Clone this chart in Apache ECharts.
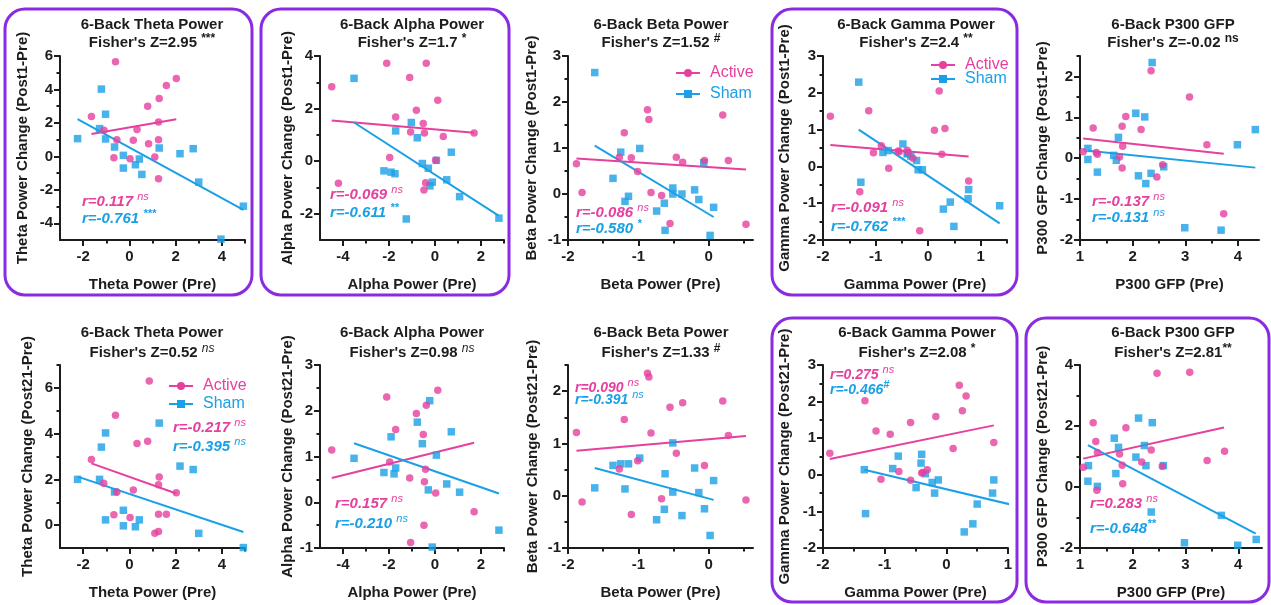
<!DOCTYPE html>
<html><head><meta charset="utf-8">
<script src="https://cdn.jsdelivr.net/npm/echarts@6/dist/echarts.min.js"></script>
<style>html,body{margin:0;padding:0;background:#fff}#c{width:1271px;height:605px}</style>
</head><body><div id="c"></div>
<script>
// ---------------- DATA ----------------
const thetaPost1Active = [[-0.6,5.66],[-1.64,2.38],[-1.1,1.56],[-0.54,1.0],[-0.67,-0.08],[0.03,-0.14],[0.17,0.96],[0.33,1.6],[0.83,0.76],[0.79,3.0],[1.1,-0.04],[1.26,1.0],[1.26,2.06],[1.29,3.46],[1.26,-1.34],[1.6,4.24],[2.03,4.66]];
const thetaPost1Sham = [[-2.24,1.06],[-1.21,4.02],[-1.03,2.52],[-1.29,1.66],[-1.03,1.04],[-0.64,0.56],[-0.26,0.06],[-0.26,-0.7],[0.26,-0.5],[0.43,-0.16],[0.54,-1.08],[1.29,0.5],[2.19,0.16],[2.76,0.46],[3.0,-1.54],[3.96,-4.95],[4.93,-2.98]];
const thetaPost1ActiveFit = [[-1.64,1.34],[2.03,2.22]];
const thetaPost1ShamFit = [[-2.24,2.22],[4.93,-3.2]];

const alphaPost1Active = [[-4.49,2.83],[-4.2,-0.84],[-2.1,3.72],[-1.97,0.14],[-1.71,1.68],[-1.1,3.18],[-1.06,1.11],[-0.81,1.94],[-0.51,1.43],[-0.46,1.07],[-0.48,-1.1],[-0.41,-0.82],[-0.38,3.72],[0.03,0.03],[0.12,2.32],[0.36,0.94],[1.7,1.07]];
const alphaPost1Sham = [[-3.52,3.15],[-2.22,-0.37],[-1.91,-0.42],[-1.74,-0.48],[-1.71,1.15],[-1.25,-2.2],[-1.03,1.47],[-0.77,0.89],[-0.55,-0.09],[-0.29,-0.27],[-0.22,-0.94],[-0.12,-0.8],[0.06,0.03],[0.51,-0.71],[0.71,0.34],[1.07,-1.35],[2.78,-2.17]];
const alphaPost1ActiveFit = [[-4.49,1.55],[1.7,1.08]];
const alphaPost1ShamFit = [[-3.52,1.47],[2.78,-2.08]];

const betaPost1Active = [[-1.88,0.66],[-1.8,0.03],[-1.27,0.8],[-1.2,1.33],[-1.1,0.79],[-1.01,0.49],[-0.87,1.83],[-0.85,1.62],[-0.82,0.03],[-0.67,-0.03],[-0.55,-0.64],[-0.46,0.8],[-0.37,0.69],[-0.06,0.73],[0.2,1.72],[0.28,0.73],[0.53,-0.66]];
const betaPost1Sham = [[-1.62,2.64],[-1.36,0.34],[-1.25,0.91],[-1.19,-0.16],[-1.14,-0.05],[-0.98,0.99],[-0.74,-0.37],[-0.63,-0.2],[-0.62,-0.79],[-0.51,0.13],[-0.51,0.0],[-0.38,0.0],[-0.2,0.09],[-0.14,-0.12],[-0.07,0.68],[0.07,-0.29],[0.02,-0.9]];
const betaPost1ActiveFit = [[-1.88,0.77],[0.53,0.53]];
const betaPost1ShamFit = [[-1.62,1.05],[0.07,-0.5]];

const gammaPost1Active = [[-1.86,1.36],[-1.13,1.51],[0.21,2.05],[0.12,0.98],[0.32,1.03],[-0.89,0.56],[-1.04,0.37],[-0.75,-0.05],[-0.57,0.42],[-0.55,0.4],[-0.4,0.44],[-0.38,0.38],[-0.29,0.22],[0.26,0.33],[-1.3,-0.69],[0.77,-0.4],[-0.16,-1.75]];
const gammaPost1Sham = [[-1.32,2.29],[-1.28,-0.43],[-0.86,0.38],[-0.76,0.43],[-0.48,0.61],[-0.4,0.34],[-0.39,0.36],[-0.33,0.28],[-0.22,0.16],[-0.19,-0.09],[-0.11,-0.09],[0.29,-1.16],[0.42,-0.97],[0.49,-1.63],[0.76,-0.88],[0.77,-0.63],[1.36,-1.07]];
const gammaPost1ActiveFit = [[-1.86,0.58],[0.77,0.27]];
const gammaPost1ShamFit = [[-1.32,1.0],[1.36,-1.55]];

const p300Post1Active = [[1.06,0.16],[1.25,0.74],[1.31,0.14],[1.33,0.1],[1.8,0.78],[1.87,1.02],[1.81,0.29],[1.75,0.03],[1.8,-0.24],[2.16,0.7],[2.35,2.14],[2.46,-0.46],[2.57,-0.16],[3.08,1.5],[3.41,0.33],[3.73,-1.36]];
const p300Post1Sham = [[1.15,0.24],[1.15,-0.03],[1.33,-0.34],[1.64,0.07],[1.69,-0.05],[1.73,0.51],[2.06,1.1],[2.23,1.01],[2.37,2.34],[2.11,-0.43],[2.25,-0.62],[2.35,-0.37],[2.59,-0.21],[2.99,-1.7],[3.68,-1.76],[3.99,0.33],[4.33,0.7]];
const p300Post1ActiveFit = [[1.06,0.48],[3.73,0.11]];
const p300Post1ShamFit = [[1.15,0.18],[4.33,-0.23]];

const thetaPost21Active = [[-1.64,2.87],[-1.11,1.83],[-0.67,0.45],[-0.54,1.45],[-0.6,4.8],[0.03,0.33],[0.17,1.54],[0.33,3.57],[0.79,3.67],[0.86,6.3],[1.1,-0.36],[1.26,-0.28],[1.26,1.77],[1.29,2.1],[1.26,0.48],[1.6,0.48],[2.03,1.42]];
const thetaPost21Sham = [[-2.24,2.0],[-1.21,3.41],[-1.03,4.03],[-1.29,2.0],[-1.03,0.23],[-0.64,1.45],[-0.26,0.65],[-0.26,-0.03],[0.26,-0.07],[0.43,0.23],[1.29,4.46],[2.19,2.58],[2.76,2.43],[3.0,-0.36],[4.93,-0.98]];
const thetaPost21ActiveFit = [[-1.64,2.7],[2.03,1.38]];
const thetaPost21ShamFit = [[-2.24,2.12],[4.93,-0.3]];

const alphaPost21Active = [[-4.49,1.14],[-2.1,2.3],[-1.97,0.88],[-1.71,1.59],[-1.1,0.53],[-1.06,-0.88],[-0.81,1.94],[-0.51,1.48],[-0.46,0.45],[-0.48,-0.5],[-0.41,0.72],[-0.38,2.12],[0.03,0.2],[0.12,2.45],[1.7,-0.21]];
const alphaPost21Sham = [[-3.52,0.96],[-2.22,0.65],[-1.91,1.43],[-1.71,0.75],[-1.78,0.62],[-0.77,1.75],[-0.55,1.28],[-0.29,0.27],[-0.23,2.22],[-0.12,-0.98],[0.06,1.03],[0.51,0.4],[0.71,1.54],[1.07,0.22],[2.78,-0.61]];
const alphaPost21ActiveFit = [[-4.49,0.53],[1.7,1.3]];
const alphaPost21ShamFit = [[-3.52,1.29],[2.78,0.19]];

const betaPost21Active = [[-1.88,1.21],[-1.8,-0.12],[-1.27,0.51],[-1.2,1.46],[-1.1,-0.36],[-1.01,0.67],[-0.87,2.34],[-0.85,2.27],[-0.82,1.2],[-0.67,-0.06],[-0.55,1.69],[-0.46,0.81],[-0.37,1.78],[-0.06,0.58],[0.2,1.81],[0.28,1.15],[0.53,-0.08]];
const betaPost21Sham = [[-1.62,0.15],[-1.36,0.58],[-1.25,0.61],[-1.19,0.13],[-1.14,0.61],[-0.98,0.72],[-0.74,-0.46],[-0.62,0.42],[-0.63,-0.26],[-0.51,1.01],[-0.51,0.07],[-0.38,-0.38],[-0.2,0.53],[-0.14,0.06],[-0.06,-0.25],[0.07,0.29],[0.02,-0.76]];
const betaPost21ActiveFit = [[-1.88,0.86],[0.53,1.14]];
const betaPost21ShamFit = [[-1.62,0.53],[0.07,-0.08]];

const gammaPost21Active = [[-1.89,0.59],[-1.32,2.02],[-1.14,1.2],[-1.06,-0.12],[-0.91,1.11],[-0.77,0.09],[-0.58,-0.15],[-0.58,1.43],[-0.4,0.05],[-0.38,0.06],[-0.31,0.14],[-0.17,1.59],[0.11,0.72],[0.21,2.45],[0.26,1.75],[0.32,2.15],[0.77,0.88]];
const gammaPost21Sham = [[-1.33,0.14],[-1.31,-1.06],[-0.87,0.17],[-0.78,0.51],[-0.49,-0.35],[-0.41,0.32],[-0.4,0.56],[-0.34,0.03],[-0.23,-0.21],[-0.19,-0.5],[-0.13,-0.14],[0.29,-1.56],[0.43,-1.34],[0.5,-0.8],[0.75,-0.5],[0.77,-0.14]];
const gammaPost21ActiveFit = [[-1.89,0.43],[0.77,1.35]];
const gammaPost21ShamFit = [[-1.33,0.14],[1.36,-0.94]];

const p300Post21Active = [[1.06,0.65],[1.25,2.11],[1.3,1.49],[1.33,1.13],[1.32,-0.11],[1.75,1.08],[1.8,0.71],[1.81,0.11],[1.87,1.94],[2.17,0.82],[2.35,1.21],[2.46,3.73],[2.56,0.68],[3.08,3.76],[3.41,0.87],[3.74,1.17]];
const p300Post21Sham = [[1.16,0.7],[1.15,0.19],[1.33,0.02],[1.65,1.6],[1.73,1.3],[1.68,0.44],[2.11,2.26],[2.06,0.98],[2.22,1.36],[2.25,0.7],[2.37,2.11],[2.35,-0.82],[2.58,0.7],[2.98,-1.83],[3.68,-0.93],[3.99,-1.91],[4.34,-1.72]];
const p300Post21ActiveFit = [[1.06,0.93],[3.73,1.95]];
const p300Post21ShamFit = [[1.15,1.37],[4.33,-1.53]];

// ---------------- TEXT ----------------
const titles = ['6-Back Theta Power','6-Back Alpha Power','6-Back Beta Power','6-Back Gamma Power','6-Back P300 GFP',
                '6-Back Theta Power','6-Back Alpha Power','6-Back Beta Power','6-Back Gamma Power','6-Back P300 GFP'];
const fisherZ = ["Fisher's Z=2.95 ","Fisher's Z=1.7 ","Fisher's Z=1.52 ","Fisher's Z=2.4 ","Fisher's Z=-0.02 ",
                 "Fisher's Z=0.52 ","Fisher's Z=0.98 ","Fisher's Z=1.33 ","Fisher's Z=2.08 ","Fisher's Z=2.81"];
const fisherSig = ['***','*','#','**','ns','ns','ns','#','*','**'];
const fisherSigItalic = [false,false,false,false,false,true,true,false,false,false];
const xNames = ['Theta Power (Pre)','Alpha Power (Pre)','Beta Power (Pre)','Gamma Power (Pre)','P300 GFP (Pre)',
                'Theta Power (Pre)','Alpha Power (Pre)','Beta Power (Pre)','Gamma Power (Pre)','P300 GFP (Pre)'];
const yNames = ['Theta Power Change (Post1-Pre)','Alpha Power Change (Post1-Pre)','Beta Power Change (Post1-Pre)','Gamma Power Change (Post1-Pre)','P300 GFP Change (Post1-Pre)',
                'Theta Power Change (Post21-Pre)','Alpha Power Change (Post21-Pre)','Beta Power Change (Post21-Pre)','Gamma Power Change (Post21-Pre)','P300 GFP Change (Post21-Pre)'];
const rActive = ['r=0.117 ','r=-0.069 ','r=-0.086 ','r=-0.091 ','r=-0.137 ','r=-0.217 ','r=0.157 ','r=0.090 ','r=0.275 ','r=0.283 '];
const rActiveSig = ['ns','ns','ns','ns','ns','ns','ns','ns','ns','ns'];
const rSham = ['r=-0.761 ','r=-0.611 ','r=-0.580 ','r=-0.762 ','r=-0.131 ','r=-0.395 ','r=-0.210 ','r=-0.391 ','r=-0.466','r=-0.648'];
const rShamSig = ['***','**','*','***','ns','ns','ns','ns','#','**'];

// ---------------- AXES ----------------
const xRanges = [[-3,5],[-5,3],[-2,0.63],[-2,1.5],[1,4.4],[-3,5],[-5,3],[-2,0.63],[-2,1],[1,4.45]];
const xTickLabels = [[-2,0,2,4],[-4,-2,0,2],[-2,-1,0],[-2,-1,0,1],[1,2,3,4],[-2,0,2,4],[-4,-2,0,2],[-2,-1,0],[-2,-1,0,1],[1,2,3,4]];
const xMinorTicks = [[-1,1,3,5],[-3,-1,1,3],[-1.5,-0.5,0.5],[-1.5,-0.5,0.5,1.5],[1.5,2.5,3.5],[-1,1,3,5],[-3,-1,1,3],[-1.5,-0.5,0.5],[-1.5,-0.5,0.5],[1.5,2.5,3.5]];
const yRanges = [[-5,6],[-3,4],[-1,3],[-2,3],[-2,2.5],[-1,7],[-1,3],[-1,2.5],[-2,3],[-2,4]];
const yTickLabels = [[-4,-2,0,2,4,6],[-2,0,2,4],[-1,0,1,2,3],[-2,-1,0,1,2,3],[-2,-1,0,1,2],[0,2,4,6],[-1,0,1,2,3],[-1,0,1,2],[-2,-1,0,1,2,3],[-2,0,2,4]];
const yMinorTicks = [[-3,-1,1,3,5],[-1,1,3],[-0.5,0.5,1.5,2.5],[-1.5,-0.5,0.5,1.5,2.5],[-1.5,-0.5,0.5,1.5,2.5],[1,3,5,7],[-0.5,0.5,1.5,2.5],[-0.5,0.5,1.5,2.5],[-1.5,-0.5,0.5,1.5,2.5],[-1,1,3]];

const activeSets = [thetaPost1Active,alphaPost1Active,betaPost1Active,gammaPost1Active,p300Post1Active,thetaPost21Active,alphaPost21Active,betaPost21Active,gammaPost21Active,p300Post21Active];
const shamSets = [thetaPost1Sham,alphaPost1Sham,betaPost1Sham,gammaPost1Sham,p300Post1Sham,thetaPost21Sham,alphaPost21Sham,betaPost21Sham,gammaPost21Sham,p300Post21Sham];
const activeFits = [thetaPost1ActiveFit,alphaPost1ActiveFit,betaPost1ActiveFit,gammaPost1ActiveFit,p300Post1ActiveFit,thetaPost21ActiveFit,alphaPost21ActiveFit,betaPost21ActiveFit,gammaPost21ActiveFit,p300Post21ActiveFit];
const shamFits = [thetaPost1ShamFit,alphaPost1ShamFit,betaPost1ShamFit,gammaPost1ShamFit,p300Post1ShamFit,thetaPost21ShamFit,alphaPost21ShamFit,betaPost21ShamFit,gammaPost21ShamFit,p300Post21ShamFit];

// ---------------- LAYOUT / STYLE ----------------
const gridBoxes = [[60,56,185,184],[320,56,184,184],[568,56,185,184],[823,56,184,184],[1080,56,179,184],
                   [60,365,185,183],[320,365,184,183],[568,365,185,183],[823,365,185,183],[1080,365,182,183]];
const yNameGaps = [30,25,29,31,30,25,25,28,31,30];
const titleX = [152,412,661,916,1173,152,412,661,917,1173];
const titleY = [[25,43],[25,43],[25,43],[25,43],[25,43],[333,353],[333,353],[333,353],[333,353],[333,353]];
const rPos = [[82,202,219],[330,195,213],[576,213,229],[831,208,227],[1092,202,218],[173,428,447],[335,504,524],[575,388,400],[830,375,390],[1090,504,529]];
const rFont = [15,15,15,15,15,15,15,14,14,15];
const boxes = [[5,9,247,286],[261,9,248,286],[772,9,245,286],[772,318,245,284],[1026,318,243,284]];
const legendPos = [[670,60,5],[925,52,-2],[163,373,2]];

const PINK = '#E6409E', BLUE = '#1AA0E6', INK = '#1c1c1c', PURPLE = '#8A2BE2';
const FONT = '"Liberation Sans", Arial, Helvetica, sans-serif';

const chart = echarts.init(document.getElementById('c'), null, {renderer: 'canvas'});
const grid = [], xAxis = [], yAxis = [], series = [], elements = [];

for (let i = 0; i < 10; i++) {
  const [l, t, w, h] = gridBoxes[i];
  grid.push({left: l, top: t, width: w, height: h, containLabel: false, outerBoundsMode: 'none'});
  const lbl = {fontSize: 15, fontWeight: 'bold', color: INK, fontFamily: FONT};
  xAxis.push({
    type: 'value', gridIndex: i, position: 'bottom', min: xRanges[i][0], max: xRanges[i][1],
    axisLine: {show: true, onZero: false, lineStyle: {color: INK, width: 2}},
    axisTick: {show: true, customValues: xTickLabels[i], length: 6, lineStyle: {color: INK, width: 2}},
    axisLabel: Object.assign({customValues: xTickLabels[i], margin: 9}, lbl),
    splitLine: {show: false},
    name: xNames[i], nameLocation: 'middle', nameGap: 37,
    nameTextStyle: {fontSize: 15, fontWeight: 'bold', color: INK, fontFamily: FONT}
  });
  xAxis.push({
    type: 'value', gridIndex: i, position: 'bottom', min: xRanges[i][0], max: xRanges[i][1],
    axisLine: {show: false, onZero: false}, axisLabel: {show: false}, splitLine: {show: false},
    axisTick: {show: true, customValues: xMinorTicks[i], length: 3.5, lineStyle: {color: INK, width: 2}}
  });
  yAxis.push({
    type: 'value', gridIndex: i, position: 'left', min: yRanges[i][0], max: yRanges[i][1],
    axisLine: {show: true, onZero: false, lineStyle: {color: INK, width: 2}},
    axisTick: {show: true, customValues: yTickLabels[i], length: 6, lineStyle: {color: INK, width: 2}},
    axisLabel: Object.assign({customValues: yTickLabels[i], margin: 7}, lbl),
    splitLine: {show: false},
    name: yNames[i], nameLocation: 'middle', nameGap: yNameGaps[i],
    nameTextStyle: {fontSize: 15, fontWeight: 'bold', color: INK, fontFamily: FONT}
  });
  yAxis.push({
    type: 'value', gridIndex: i, position: 'left', min: yRanges[i][0], max: yRanges[i][1],
    axisLine: {show: false, onZero: false}, axisLabel: {show: false}, splitLine: {show: false},
    axisTick: {show: true, customValues: yMinorTicks[i], length: 3.5, lineStyle: {color: INK, width: 2}}
  });
  const ax = {xAxisIndex: 2 * i, yAxisIndex: 2 * i};
  series.push(Object.assign({type: 'line', name: 'Active', data: activeFits[i], symbol: 'circle', symbolSize: 8,
    showSymbol: false, lineStyle: {color: PINK, width: 2}, itemStyle: {color: PINK}, z: 2, silent: true, clip: true}, ax));
  series.push(Object.assign({type: 'line', name: 'Sham', data: shamFits[i], symbol: 'rect', symbolSize: 8,
    showSymbol: false, lineStyle: {color: BLUE, width: 2}, itemStyle: {color: BLUE}, z: 2, silent: true, clip: true}, ax));
  series.push(Object.assign({type: 'scatter', name: 'Sham', data: shamSets[i], symbol: 'rect', symbolSize: 7.5,
    itemStyle: {color: BLUE}, z: 3, clip: true}, ax));
  series.push(Object.assign({type: 'scatter', name: 'Active', data: activeSets[i], symbol: 'circle', symbolSize: 7.5,
    itemStyle: {color: PINK}, z: 4, clip: true}, ax));

  // titles
  elements.push({type: 'text', x: titleX[i], y: titleY[i][0], style: {text: titles[i], align: 'center', verticalAlign: 'middle',
    fontSize: 15, fontWeight: 'bold', fontFamily: FONT, fill: INK}});
  elements.push({type: 'text', x: titleX[i], y: titleY[i][1], style: {
    text: '{m|' + fisherZ[i] + '}{s|' + fisherSig[i] + '}', align: 'center', verticalAlign: 'middle',
    rich: {m: {fontSize: 15, fontWeight: 'bold', fontFamily: FONT, fill: INK, lineHeight: 21},
           s: {fontSize: 12, fontWeight: fisherSigItalic[i] ? 'normal' : 'bold', fontStyle: fisherSigItalic[i] ? 'italic' : 'normal',
               fontFamily: FONT, fill: INK, lineHeight: 12, verticalAlign: 'top'}}}});
  // r texts
  const [rx, ry1, ry2] = rPos[i];
  const mk = (txt, sig, y, col) => ({type: 'text', x: rx, y: y, style: {
    text: '{m|' + txt + '}{s|' + sig + '}', align: 'left', verticalAlign: 'middle',
    rich: {m: {fontSize: rFont[i], fontWeight: 'bold', fontStyle: 'italic', fontFamily: FONT, fill: col, lineHeight: 21},
           s: {fontSize: 11, fontWeight: sig === 'ns' ? 'normal' : 'bold', fontStyle: 'italic', fontFamily: FONT, fill: col, lineHeight: 11, verticalAlign: 'top'}}}});
  elements.push(mk(rActive[i], rActiveSig[i], ry1, PINK));
  elements.push(mk(rSham[i], rShamSig[i], ry2, BLUE));
}
boxes.forEach(b => elements.push({type: 'rect', shape: {x: b[0], y: b[1], width: b[2], height: b[3], r: 20},
  style: {fill: 'none', stroke: PURPLE, lineWidth: 3}, silent: true}));

const legend = legendPos.map(p => ({
  left: p[0], top: p[1], orient: 'vertical', itemGap: p[2], itemWidth: 24, itemHeight: 10, selectedMode: false,
  textStyle: {fontSize: 16, fontFamily: FONT, padding: [0, 0, 0, 5]},
  data: [{name: 'Active', textStyle: {color: PINK}}, {name: 'Sham', textStyle: {color: BLUE}}]
}));

chart.setOption({
  animation: false, backgroundColor: '#ffffff',
  grid, xAxis, yAxis, series, legend,
  graphic: {elements}
});
</script></body></html>
